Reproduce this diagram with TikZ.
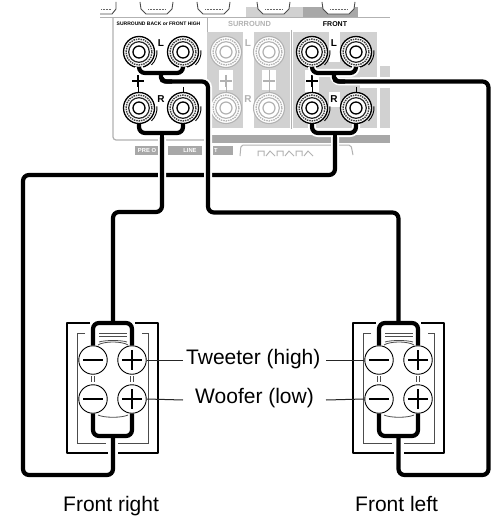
\documentclass[tikz,border=0pt]{standalone}
\usepackage{fontspec}
\setmainfont{Liberation Sans}
\definecolor{pgray}{gray}{0.82}
\definecolor{pdark}{gray}{0.66}
\definecolor{lgray}{gray}{0.70}
\tikzset{
 x=1pt,y=-1pt,
 bpostst/.style={circle,draw=black,line width=1.3pt,minimum size=31pt,inner sep=0pt,fill=white},
 gpostst/.style={circle,draw=lgray,line width=1.1pt,minimum size=31pt,inner sep=0pt,fill=white},
 halo/.style={draw=white,line width=8pt,rounded corners=6pt},
 wire/.style={draw=black,line width=4.2pt,rounded corners=6pt},
 spk/.style={circle,draw=black,line width=0.9pt,minimum size=28.5pt,inner sep=0pt,fill=white},
 signst/.style={line width=2.8pt,black},
 leader/.style={line width=1pt,black!85},
 captx/.style={font=\fontsize{21}{24}\selectfont,inner sep=0pt,anchor=base west},
 tinytx/.style={font=\fontsize{5}{6}\selectfont\bfseries,inner sep=0pt},
 panelb/.style={font=\fontsize{10}{11}\selectfont\bfseries,inner sep=0pt},
 tabtx/.style={font=\fontsize{5.8}{6}\selectfont\bfseries,text=white,inner sep=0pt},
 frame/.style={black,line width=1.7pt,line join=round},
 fine/.style={black!70,line width=0.8pt},
}
\newcommand{\bpost}[3]{%
 \node[bpostst] (#1) at (#2,#3) {};
 \draw[black!75,line width=1.4pt,dash pattern=on 1.5pt off 0.9pt] (#1) circle[radius=13];
 \draw[black!85,line width=1.2pt] (#1) circle[radius=10.3];
 \draw[black,line width=1.3pt,fill=white] (#1) circle[radius=6];
 \draw[black,line width=0.9pt] (#2+12.5,#3+12.9) arc[start angle=46,end angle=-5,radius=18];
}
\newcommand{\gpost}[3]{%
 \node[gpostst] (#1) at (#2,#3) {};
 \draw[lgray,line width=1.3pt,dash pattern=on 1.5pt off 0.9pt] (#1) circle[radius=13];
 \draw[lgray,line width=1.1pt] (#1) circle[radius=10.3];
 \draw[lgray,line width=1.2pt,fill=white] (#1) circle[radius=6];
}
\newcommand{\spkbox}[1]{%
 \draw[frame] (#1+90,323) -| (#1+67,453) -- (#1+108,453);
 \draw[frame] (#1+118,453) -| (#1+158,323) -- (#1+135,323);
 \draw[fine] (#1+85,333) -| (#1+77,443) -- (#1+106,443);
 \draw[fine] (#1+118,443) -| (#1+148,333) -- (#1+142,333);
 \draw[fine] (#1+99,333) -- (#1+127,333);
 \draw[fine] (#1+99,336) -- (#1+127,336);
 \draw[fine] (#1+98,345) .. controls (#1+104,341) and (#1+122,341) .. (#1+128,345);
 \draw[fine] (#1+99,342) .. controls (#1+105,340) and (#1+121,340) .. (#1+127,342);
 \draw[fine] (#1+98,415) .. controls (#1+104,418) and (#1+122,418) .. (#1+128,415);
 \draw[fine] (#1+91,376) -- (#1+91,382) (#1+94.5,376) -- (#1+94.5,382);
 \draw[fine] (#1+130,376) -- (#1+130,382) (#1+133.5,376) -- (#1+133.5,382);
}
\newcommand{\spkposts}[2]{%
 \node[spk] (#2tm) at (#1+93,360) {};
 \node[spk] (#2tp) at (#1+132,360) {};
 \node[spk] (#2wm) at (#1+93,399) {};
 \node[spk] (#2wp) at (#1+132,399) {};
 \draw[signst] (#1+83,360) -- (#1+103,360);
 \draw[signst] (#1+83,399) -- (#1+103,399);
 \draw[signst] (#1+122,360) -- (#1+142,360) (#1+132,350) -- (#1+132,370);
 \draw[signst] (#1+122,399) -- (#1+142,399) (#1+132,389) -- (#1+132,409);
}
\begin{document}
\begin{tikzpicture}
\useasboundingbox (0,0) rectangle (493,516);
\fill[white] (0,0) rectangle (493,516);
% panel
\fill[pgray] (246,7) rectangle (303,18);
\fill[pdark] (303,7) rectangle (358,18);
\draw[lgray,line width=1pt] (100,18) -- (390,18);
\foreach \xa in {140,197,257,322}{
 \draw[black!70,line width=0.9pt,fill=white] (\xa,2) -- (\xa+1,9) -- (\xa+6,14) -- (\xa+27,14) -- (\xa+32,9) -- (\xa+33,2);
 \draw[black!60,line width=0.8pt,dash pattern=on 1pt off 0.5pt] (\xa+8,9) -- (\xa+25,9);
}
\draw[black!70,line width=0.9pt] (100,14) -- (112,14) -- (116,9) -- (116,2);
\draw[black!60,line width=0.8pt,dash pattern=on 1pt off 0.5pt] (101,9) -- (111,9);
% grey blocks
\fill[pgray] (207,32) rectangle (290,128);
\fill[pgray] (293,32) rectangle (377,128);
\fill[pgray] (380,66) rectangle (390,128);
\fill[white] (243,32) rectangle (254,128);
\fill[white] (219,70) rectangle (233,90);
\fill[white] (262,70) rectangle (276,90);
\fill[white] (329,32) rectangle (340,62);
\fill[white] (305,70) rectangle (319,92);
\fill[white] (329,92) rectangle (340,107);
\fill[white] (360,77) rectangle (392,88);
\draw[lgray,line width=0.8pt] (291.5,30) -- (291.5,129);
\fill[pdark] (207,135) rectangle (390,143);
\draw[lgray,line width=1.2pt,rounded corners=3pt] (113,18) -- (113,140) -- (207,140);
\draw[lgray,line width=1pt] (207,18) -- (207,32);
\fill[pdark] (135,146) rectangle (158,155);
\fill[pdark] (168,146) rectangle (202,155);
\fill[pdark] (213,146) rectangle (233,155);
\node[tabtx] (lpre) at (147,150.5) {PRE O};
\node[tabtx] (lline) at (190,150.5) {LINE};
\node[tabtx] (lt) at (216,150.5) {T};
\draw[lgray,line width=1pt,rounded corners=2pt] (240,156) -- (241,145) -- (338,145) -- (351,145) -- (353,155);
\foreach \xa in {258,277,296}{\draw[lgray,line width=1pt] (\xa,156) -- (\xa,151) -- (\xa+6,151) -- (\xa+6,156) (\xa+8,156) -- (\xa+12,151) -- (\xa+17,156);}
\node[tinytx] (lsb) at (158.5,24) {SURROUND BACK or FRONT HIGH};
\node[font=\fontsize{7.4}{8}\selectfont\bfseries,text=lgray,inner sep=0pt] (lsu) at (249.5,24) {SURROUND};
\node[font=\fontsize{7}{8}\selectfont\bfseries,inner sep=0pt] (lfr) at (335,24) {FRONT};
% posts
\bpost{sbtl}{139}{52}\bpost{sbtr}{183}{52}\bpost{sbbl}{139}{108}\bpost{sbbr}{183}{108}
\gpost{sutl}{226}{52}\gpost{sutr}{269}{52}\gpost{subl}{226}{108}\gpost{subr}{269}{108}
\bpost{frtl}{312}{52}\bpost{frtr}{356}{52}\bpost{frbl}{312}{108}\bpost{frbr}{356}{108}
% panel marks
\node[panelb] (l1) at (161,43) {L};
\node[panelb] (r1) at (161,99) {R};
\node[panelb,text=lgray] (l2) at (248,43) {L};
\node[panelb,text=lgray] (r2) at (248,99) {R};
\node[panelb] (l3) at (334,43) {L};
\node[panelb] (r3) at (334,99) {R};
\foreach \xa/\cc in {138/black,226/lgray,312/black}{
 \draw[\cc,line width=1.8pt] (\xa-6,81) -- (\xa+6,81) (\xa,75) -- (\xa,87);
 \draw[\cc,line width=0.7pt] (\xa,87) -- (\xa,92);
}
\draw[black,line width=0.7pt] (183,87) -- (183,92);
\draw[black,line width=0.7pt] (356,87) -- (356,92);
\draw[lgray,line width=1.8pt] (263,81) -- (275,81);
\draw[lgray,line width=0.7pt] (269,70) -- (269,92);
% speaker frames
\spkbox{0}
\spkbox{286}
% coordinates for wires
\coordinate (sbtj) at (161,73);
\coordinate (sbtk) at (161,81.5);
\coordinate (frtj) at (334,73);
\coordinate (frtk) at (334,81.5);
\coordinate (sbbj) at (162,133);
\coordinate (frbj) at (335,133);
\coordinate (c1) at (208,81.5);
\coordinate (c2) at (208,212.5);
\coordinate (c3) at (398.5,212.5);
\coordinate (c4) at (398.5,323);
\coordinate (f1) at (488.5,81.5);
\coordinate (f2) at (488.5,475);
\coordinate (f3) at (398.5,475);
\coordinate (f4) at (398.5,436);
\coordinate (g1) at (162,212);
\coordinate (g2) at (113,212);
\coordinate (g3) at (113,323);
\coordinate (h1) at (335,175);
\coordinate (h2) at (23,175);
\coordinate (h3) at (23,475);
\coordinate (h4) at (113,475);
\coordinate (h5) at (113,436);
% long wires, each with a white halo
\path[halo] (h5) -- (h4) -- (h3) -- (h2) -- (h1) -- (frbj);
\draw[wire] (h5) -- (h4) -- (h3) -- (h2) -- (h1) -- (frbj);
\path[halo] (g3) -- (g2) -- (g1) -- (sbbj);
\draw[wire] (g3) -- (g2) -- (g1) -- (sbbj);
\path[halo] (c4) -- (c3) -- (c2) -- (c1) -- (sbtk) -- (sbtj);
\draw[wire] (c4) -- (c3) -- (c2) -- (c1) -- (sbtk) -- (sbtj);
\path[halo] (f4) -- (f3) -- (f2) -- (f1) -- (frtk) -- (frtj);
\draw[wire] (f4) -- (f3) -- (f2) -- (f1) -- (frtk) -- (frtj);
% jumpers on the rear panel
\path[halo] (sbtl.south) -- (139,73) -- (183,73) -- (sbtr.south);
\path[halo] (frtl.south) -- (312,73) -- (356,73) -- (frtr.south);
\path[halo] (sbbl.south) -- (139,133) -- (183,133) -- (sbbr.south);
\path[halo] (frbl.south) -- (312,133) -- (356,133) -- (frbr.south);
\draw[wire] (sbtl.south) -- (139,73) -- (183,73) -- (sbtr.south);
\draw[wire] (frtl.south) -- (312,73) -- (356,73) -- (frtr.south);
\draw[wire] (sbbl.south) -- (139,133) -- (183,133) -- (sbbr.south);
\draw[wire] (frbl.south) -- (312,133) -- (356,133) -- (frbr.south);
\draw[wire,rounded corners=4pt] (sbtj) -- (sbtk) -- (172,81.5);
\draw[wire,rounded corners=4pt] (frtj) -- (frtk) -- (345,81.5);
\draw[wire] (sbbj) -- (162,141);
\draw[wire] (frbj) -- (335,141);
% speaker terminals and jumpers
\spkposts{0}{a}
\spkposts{286}{b}
\draw[wire] (atm.north) -- (93,323) -- (132,323) -- (atp.north);
\draw[wire] (awm.south) -- (93,436) -- (132,436) -- (awp.south);
\draw[wire] (btm.north) -- (379,323) -- (418,323) -- (btp.north);
\draw[wire] (bwm.south) -- (379,436) -- (418,436) -- (bwp.south);
% labels
\node[captx] (tw) at (186,364) {Tweeter (high)};
\node[captx] (wf) at (195,403) {Woofer (low)};
\coordinate (le1) at (183,360);
\coordinate (le2) at (183,400);
\coordinate (re1) at (326,360);
\coordinate (re2) at (326,400);
\draw[leader] (atp.east) -- (le1);
\draw[leader] (awp.east) -- (le2);
\draw[leader] (re1) -- (btm.west);
\draw[leader] (re2) -- (bwm.west);
\node[captx] (fr) at (63,511) {Front right};
\node[captx] (fl) at (355,511) {Front left};
\end{tikzpicture}
\end{document}
